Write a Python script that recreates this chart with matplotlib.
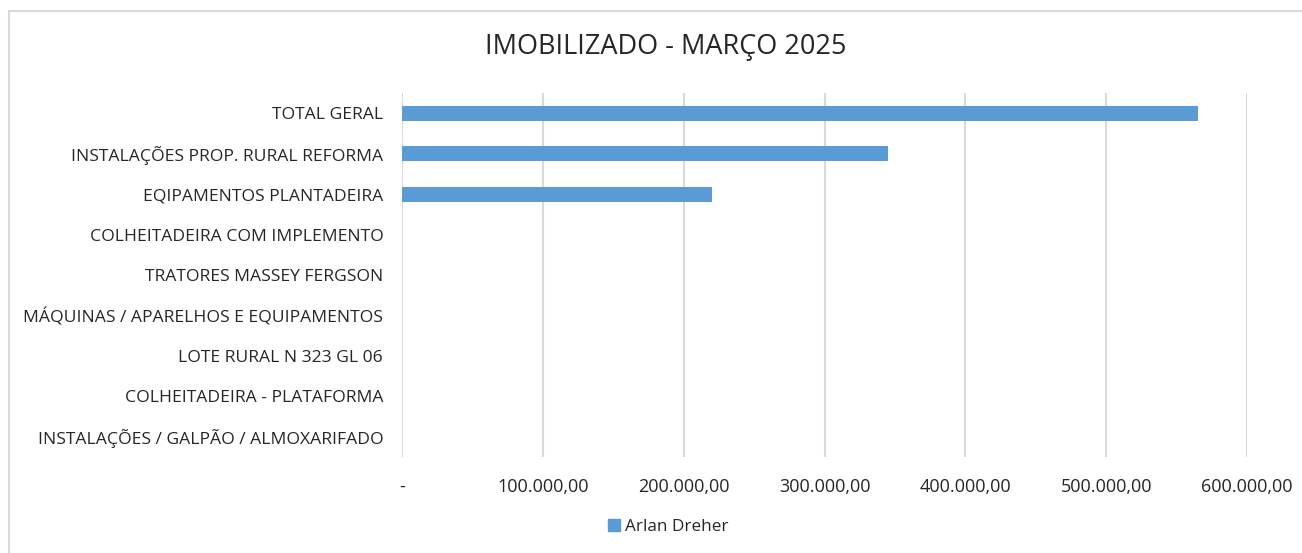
import matplotlib
matplotlib.use("Agg")
import matplotlib.pyplot as plt
from matplotlib.patches import Rectangle, Patch
from matplotlib.ticker import FuncFormatter, MultipleLocator

# ---------------------------------------------------------
# DATA (top to bottom as shown in the chart)
# ---------------------------------------------------------
categories = [
    "TOTAL GERAL",
    "INSTALAÇÕES PROP. RURAL REFORMA",
    "EQIPAMENTOS PLANTADEIRA",
    "COLHEITADEIRA COM IMPLEMENTO",
    "TRATORES MASSEY FERGSON",
    "MÁQUINAS / APARELHOS E EQUIPAMENTOS",
    "LOTE RURAL N 323 GL 06",
    "COLHEITADEIRA - PLATAFORMA",
    "INSTALAÇÕES / GALPÃO / ALMOXARIFADO",
]
values = [565000, 345000, 220000, 0, 0, 0, 0, 0, 0]
series_name = "Arlan Dreher"
title = "IMOBILIZADO - MARÇO 2025"

BAR_COLOR = "#5B9BD5"
GRID_COLOR = "#D9D9D9"
TEXT_COLOR = "#262626"
FONT = "Open Sans"

W, H = 1302, 553


def brl(x, pos=None):
    if abs(x) < 0.5:
        return "-"
    s = f"{x:,.2f}"
    return s.replace(",", "X").replace(".", ",").replace("X", ".")


fig = plt.figure(figsize=(W / 100, H / 100), dpi=100)
fig.patch.set_facecolor("white")

# chart border
fig.patches.append(Rectangle((9 / W, -0.2), 1.2, 1 - 11 / H + 0.2,
                             transform=fig.transFigure, fill=False,
                             edgecolor=GRID_COLOR, linewidth=1.5))

left, right, top, bottom = 402, 1247, 93, 457
ax = fig.add_axes([left / W, 1 - bottom / H, (right - left) / W, (bottom - top) / H])

ypos = list(range(len(categories)))[::-1]
ax.barh(ypos, values, height=0.37, color=BAR_COLOR, linewidth=0, zorder=3)

ax.set_xlim(0, 600000)
ax.set_ylim(-0.5, len(categories) - 0.5)
ax.xaxis.set_major_locator(MultipleLocator(100000))
ax.xaxis.set_major_formatter(FuncFormatter(brl))
ax.set_yticks(ypos)
ax.set_yticklabels(categories)

ax.grid(axis="x", color=GRID_COLOR, linewidth=1.5, zorder=0)
for sp in ax.spines.values():
    sp.set_visible(False)
ax.tick_params(axis="both", length=0, colors=TEXT_COLOR)
ax.tick_params(axis="x", pad=15, labelsize=13)
ax.tick_params(axis="y", pad=13.5, labelsize=12.6)
for lab in ax.get_xticklabels() + ax.get_yticklabels():
    lab.set_fontfamily(FONT)

fig.text(666 / W, 1 - 47 / H, title, ha="center", va="center",
         fontsize=19.5, color=TEXT_COLOR, fontfamily=FONT)

handle = Patch(facecolor=BAR_COLOR, edgecolor=BAR_COLOR)
fig.legend([handle], [series_name], loc="center", bbox_to_anchor=(668 / W, 1 - 527 / H),
           frameon=False, handlelength=0.7, handleheight=0.7, handletextpad=0.3,
           prop={"family": FONT, "size": 12.3}, labelcolor=TEXT_COLOR)

fig.savefig("out.png", dpi=100)
